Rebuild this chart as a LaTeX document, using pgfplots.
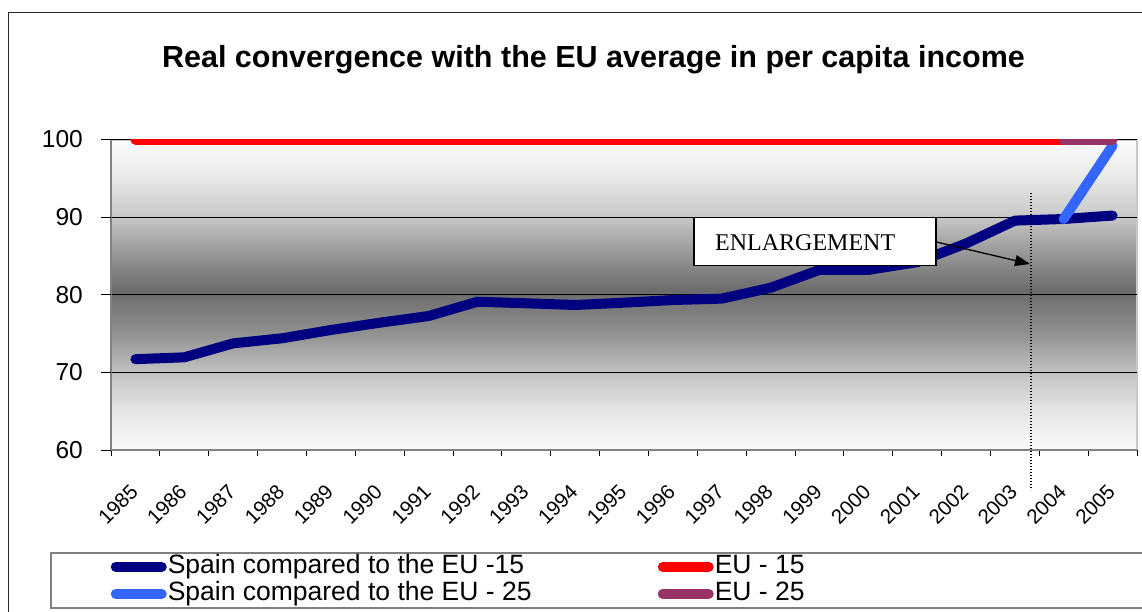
\documentclass[border=0pt]{standalone}
\usepackage{fontspec}
\setmainfont{Liberation Sans}
\newfontfamily\timesfont{Liberation Serif}
\usepackage{pgfplots}
\pgfplotsset{compat=1.18}
\usetikzlibrary{arrows.meta}

\definecolor{spainA}{HTML}{000080}
\definecolor{euA}{HTML}{FF0000}
\definecolor{spainB}{HTML}{3366FF}
\definecolor{euB}{HTML}{993366}
\definecolor{axgray}{HTML}{808080}
\definecolor{s60}{gray}{0.98}
\definecolor{s65}{gray}{0.90}
\definecolor{s70}{gray}{0.76}
\definecolor{s75}{gray}{0.57}
\definecolor{s80}{gray}{0.42}
\definecolor{s85}{gray}{0.58}
\definecolor{s90}{gray}{0.78}
\definecolor{s95}{gray}{0.91}
\definecolor{s100}{gray}{0.99}
% value v sits at 25bp + 1.25bp*(v-60)
\pgfdeclareverticalshading{plotbg}{100bp}{color(0bp)=(s60); color(25bp)=(s60);
  color(31.25bp)=(s65); color(37.5bp)=(s70); color(43.75bp)=(s75);
  color(50.625bp)=(s80); color(56.25bp)=(s85); color(62.5bp)=(s90);
  color(68.75bp)=(s95); color(75bp)=(s100); color(100bp)=(s100)}

\begin{document}
\begin{tikzpicture}[x=1pt,y=1pt]
\useasboundingbox (0,0) rectangle (1142,611);
\draw[line width=1.5pt, black!85] (8.5,-20) |- (1170,598.5);
\node[anchor=base, font=\bfseries\fontsize{30.5}{36}\selectfont] at (593.5,543)
  {Real convergence with the EU average in per capita income};
\begin{axis}[
  at={(111pt,161pt)}, anchor=south west,
  scale only axis, width=1026pt, height=310.5pt,
  xmin=-0.5, xmax=20.5, ymin=60, ymax=100,
  axis x line*=bottom, axis y line*=left,
  axis line style={draw=axgray, line width=2pt},
  axis background/.style={shading=plotbg, draw=gray!45, line width=2pt},
  tick align=outside, major tick length=6pt,
  tick style={black, line width=1pt},
  xtick={-0.5,0.5,...,20.5},
  xticklabels={1985,1986,1987,1988,1989,1990,1991,1992,1993,1994,1995,1996,
    1997,1998,1999,2000,2001,2002,2003,2004,2005,{}},
  x tick label style={font=\fontsize{20.5}{24}\selectfont},
  xticklabel style={xshift=18pt, yshift=-27pt, rotate=45, anchor=north east,
    inner sep=0pt},
  ytick={60,70,80,90,100},
  yticklabel style={xshift=-22pt, inner sep=0pt, font=\fontsize{24.5}{28}\selectfont},
  /pgf/number format/assume math mode=true,
  extra y ticks={60,70,80,90,100}, extra y tick labels={},
  extra tick style={major tick length=10pt, grid=none},
  ymajorgrids, major grid style={black, line width=1pt},
  legend columns=2, legend cell align=left,
  legend style={at={(-0.05945,-0.3285)}, anchor=north west, draw=axgray,
    line width=1.5pt, inner xsep=60pt, inner ysep=0.5pt, column sep=0pt, row sep=0pt,
    font=\fontsize{26.5}{27}\selectfont,
    nodes={inner xsep=1pt, inner ysep=1pt, text height=19pt, text depth=6pt, anchor=west}},
  legend image code/.code={\path (0pt,0pt) -- (46pt,0pt);
    \draw[#1, line width=8pt, line cap=round] (0pt,0pt) -- (44pt,0pt);},
]
\addplot[spainA, line width=10pt, line cap=round, line join=round] coordinates {
  (0,71.7) (1,71.94) (2,73.74) (3,74.39) (4,75.46) (5,76.4) (6,77.26) (7,79.1)
  (8,78.9) (9,78.68) (10,78.98) (11,79.32) (12,79.5) (13,80.9) (14,83.2)
  (15,83.2) (16,84.2) (17,86.6) (18,89.55) (19,89.76) (20,90.2)};
\addlegendentry{\makebox[489pt][l]{Spain compared to the EU -15}}
\addplot[euA, line width=10pt, line cap=round] coordinates {
  (0,100) (1,100) (2,100) (3,100) (4,100) (5,100) (6,100) (7,100) (8,100) (9,100)
  (10,100) (11,100) (12,100) (13,100) (14,100) (15,100) (16,100) (17,100) (18,100) (19,100)};
\addlegendentry{\makebox[440pt][l]{EU - 15}}
\addplot[spainB, line width=10pt, line cap=round] coordinates {(19,89.76) (20,99.2)};
\addlegendentry{\makebox[489pt][l]{Spain compared to the EU - 25}}
\addplot[euB, line width=10pt, line cap=round] coordinates {(19,100) (20,100)};
\addlegendentry{\makebox[440pt][l]{EU - 25}}
\end{axis}
\node[draw=black, line width=1.5pt, fill=white, minimum width=242pt, minimum height=48pt,
  anchor=north west, inner sep=0pt] at (693,394) {};
\node[anchor=base west, inner sep=0pt, font=\timesfont\fontsize{24}{28}\selectfont]
  at (715,360) {ENLARGEMENT};
\draw[line width=1.3pt, -{Triangle[length=15pt,width=11pt]}] (935,369.3) -- (1030,347);
\draw[line width=1.3pt, dash pattern=on 1.3pt off 1.7pt] (1031,418) -- (1031,121);
\end{tikzpicture}
\end{document}
